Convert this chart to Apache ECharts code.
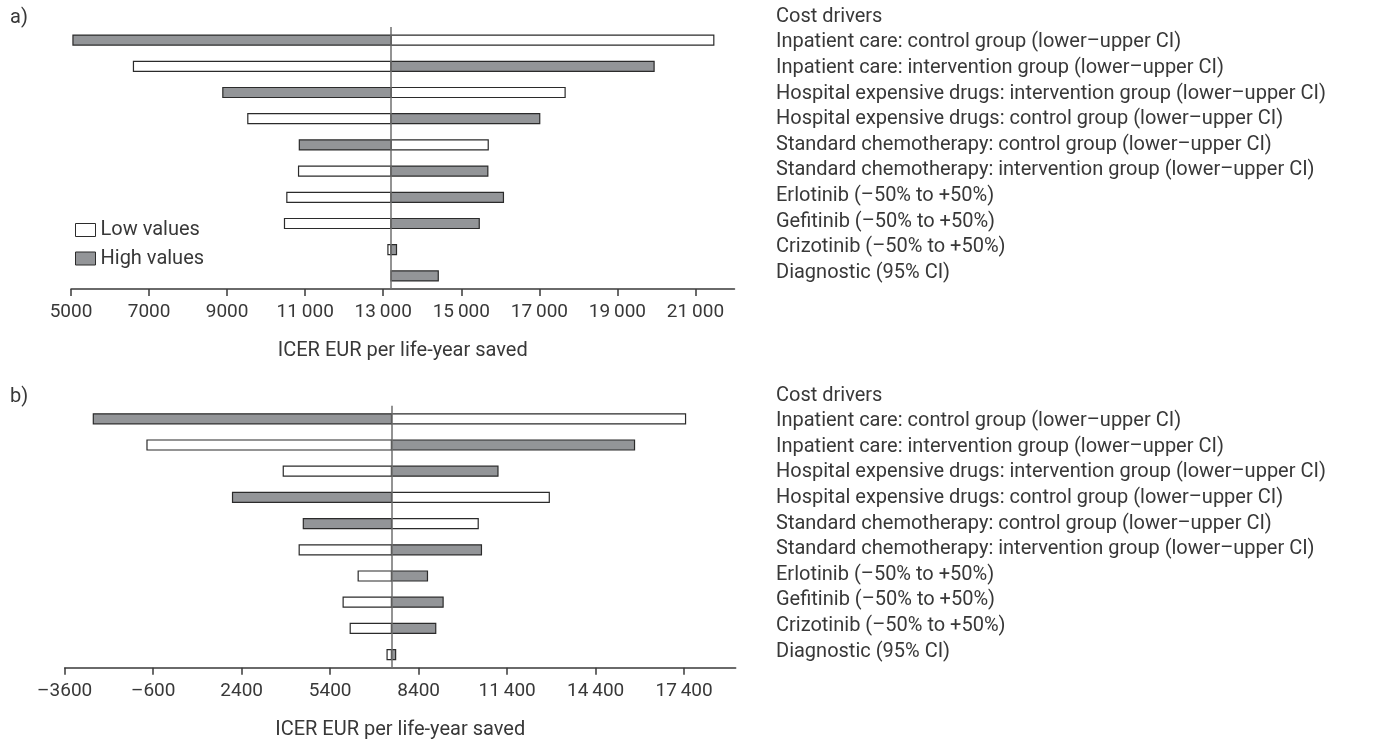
<!DOCTYPE html>
<html>
<head>
<meta charset="utf-8">
<title>Tornado diagrams – ICER EUR per life-year saved</title>
<script src="https://cdn.jsdelivr.net/npm/echarts@6/dist/echarts.min.js"></script>
<style>
  html, body { margin: 0; padding: 0; background: #ffffff; }
  #chart { width: 1377px; height: 744px; }
</style>
</head>
<body>
<div id="chart"></div>
<script>
// Cost drivers, listed top to bottom
const categories = [
  'Inpatient care: control group (lower–upper CI)',
  'Inpatient care: intervention group (lower–upper CI)',
  'Hospital expensive drugs: intervention group (lower–upper CI)',
  'Hospital expensive drugs: control group (lower–upper CI)',
  'Standard chemotherapy: control group (lower–upper CI)',
  'Standard chemotherapy: intervention group (lower–upper CI)',
  'Erlotinib (–50% to +50%)',
  'Gefitinib (–50% to +50%)',
  'Crizotinib (–50% to +50%)',
  'Diagnostic (95% CI)'
];

// Panel a)
const baseA = 13200;
const lowA  = [21470, 6600, 17660, 9530, 15690, 10830, 10530, 10470, 13120, 13200];
const highA = [5050, 19940, 8890, 17010, 10850, 15680, 16080, 15460, 13340, 14410];
const ticksA = [5000, 7000, 9000, 11000, 13000, 15000, 17000, 19000, 21000];
const tickLabelsA = ['5000', '7000', '9000', '11\u2009000', '13\u2009000', '15\u2009000', '17\u2009000', '19\u2009000', '21\u2009000'];

// Panel b)
const baseB = 7480;
const lowB  = [17450, -810, 3810, 12830, 10420, 4350, 6350, 5840, 6080, 7330];
const highB = [-2630, 15720, 11090, 2090, 4490, 10530, 8700, 9230, 8980, 7620];
const ticksB = [-3600, -600, 2400, 5400, 8400, 11400, 14400, 17400];
const tickLabelsB = ['–3600', '–600', '2400', '5400', '8400', '11\u2009400', '14\u2009400', '17\u2009400'];

const axisTitle = 'ICER EUR per life-year saved';
const seriesNames = ['Low values', 'High values'];

const FONT = 'Roboto';
const TEXT = '#383838';
const LOW_FILL = '#ffffff';
const HIGH_FILL = '#939598';
const EDGE = '#2b2b2b';
const BAR_THICK = 10;
const PANEL_SHIFT = 378.7;

function barRenderer(base, fill) {
  return function (params, api) {
    const cat = api.value(1);
    const p0 = api.coord([base, cat]);
    const p1 = api.coord([api.value(0), cat]);
    const w = Math.abs(p1[0] - p0[0]);
    if (w < 0.5) return null;
    return {
      type: 'rect',
      shape: { x: Math.min(p0[0], p1[0]), y: p0[1] - BAR_THICK / 2, width: w, height: BAR_THICK },
      style: { fill: fill, stroke: EDGE, lineWidth: 1.2 }
    };
  };
}

function xAxisFor(gridIndex, min, max, ticks, labels) {
  return {
    type: 'value',
    gridIndex: gridIndex,
    min: min,
    max: max,
    splitLine: { show: false },
    axisLine: { show: true, lineStyle: { color: '#3a3a3a', width: 1.5 } },
    axisTick: { show: true, length: 7, customValues: ticks, lineStyle: { color: '#3a3a3a', width: 1.5 } },
    axisLabel: {
      customValues: ticks,
      margin: 14,
      fontFamily: FONT,
      fontSize: 19,
      color: TEXT,
      formatter: function (v) {
        const i = ticks.indexOf(v);
        return i >= 0 ? labels[i] : '';
      }
    },
    name: axisTitle,
    nameLocation: 'middle',
    nameGap: 52,
    nameTextStyle: { fontFamily: FONT, fontSize: 20, color: TEXT }
  };
}

function yAxisFor(gridIndex) {
  return {
    type: 'category',
    gridIndex: gridIndex,
    data: categories,
    inverse: true,
    show: false
  };
}

function panelSeries(idx, base, low, high) {
  const baseLine = {
    silent: true,
    symbol: 'none',
    label: { show: false },
    lineStyle: { color: '#6f6f6f', width: 1.5, type: 'solid' },
    data: [{ xAxis: base }]
  };
  return [
    {
      name: seriesNames[0],
      type: 'custom',
      xAxisIndex: idx,
      yAxisIndex: idx,
      itemStyle: { color: LOW_FILL, borderColor: EDGE, borderWidth: 1 },
      renderItem: barRenderer(base, LOW_FILL),
      encode: { x: 0, y: 1 },
      data: low.map(function (v, i) { return [v, i]; })
    },
    {
      name: seriesNames[1],
      type: 'custom',
      xAxisIndex: idx,
      yAxisIndex: idx,
      itemStyle: { color: HIGH_FILL, borderColor: EDGE, borderWidth: 1 },
      renderItem: barRenderer(base, HIGH_FILL),
      encode: { x: 0, y: 1 },
      data: high.map(function (v, i) { return [v, i]; }),
      markLine: baseLine
    }
  ];
}

const driverBlock = 'Cost drivers\n' + categories.join('\n');
const LINE_H = 25.6;
const titleText = { fontFamily: FONT, fontSize: 20, fontWeight: 'normal', color: TEXT, lineHeight: LINE_H };

const chart = echarts.init(document.getElementById('chart'), null, { renderer: 'canvas' });
chart.setOption({
  backgroundColor: '#ffffff',
  animation: false,
  textStyle: { fontFamily: FONT },
  title: [
    { text: 'a)', left: 10, top: 5.5, padding: 0, textStyle: titleText },
    { text: driverBlock, left: 776, top: 4, padding: 0, textStyle: titleText },
    { text: 'b)', left: 10, top: 5.5 + PANEL_SHIFT, padding: 0, textStyle: titleText },
    { text: driverBlock, left: 776, top: 4 + PANEL_SHIFT, padding: 0, textStyle: titleText }
  ],
  legend: {
    orient: 'vertical',
    left: 75,
    top: 220,
    padding: 0,
    itemGap: 8.5,
    itemWidth: 20,
    itemHeight: 13,
    icon: 'rect',
    selectedMode: false,
    textStyle: { fontFamily: FONT, fontSize: 20, color: TEXT, lineHeight: 20 },
    data: [
      { name: seriesNames[0], itemStyle: { color: LOW_FILL, borderColor: EDGE, borderWidth: 1 } },
      { name: seriesNames[1], itemStyle: { color: HIGH_FILL, borderColor: EDGE, borderWidth: 1 } }
    ]
  },
  grid: [
    { left: 71, top: 27, width: 663.5, height: 262, outerBoundsMode: 'none', containLabel: false },
    { left: 64.7, top: 27 + PANEL_SHIFT, width: 671, height: 262, outerBoundsMode: 'none', containLabel: false }
  ],
  xAxis: [
    xAxisFor(0, 5000, 22000, ticksA, tickLabelsA),
    xAxisFor(1, -3600, 19150, ticksB, tickLabelsB)
  ],
  yAxis: [yAxisFor(0), yAxisFor(1)],
  series: panelSeries(0, baseA, lowA, highA).concat(panelSeries(1, baseB, lowB, highB))
});
</script>
</body>
</html>
